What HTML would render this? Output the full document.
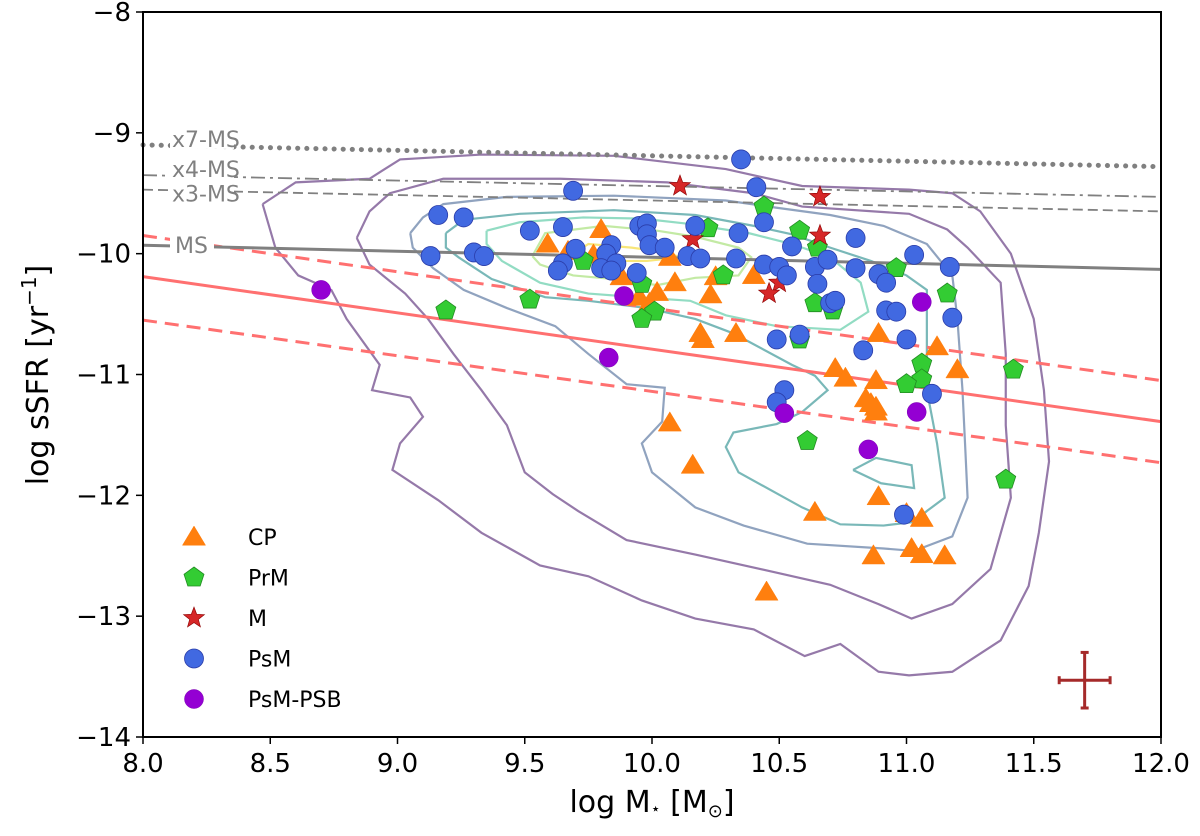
<!DOCTYPE html>
<html><head><meta charset="utf-8"><style>
body{margin:0;background:#fff}
svg{display:block;font-family:"DejaVu Sans","Liberation Sans",sans-serif}
</style></head><body>
<svg id="chart" width="1200" height="836" viewBox="0 0 1200 836">
<g id="contours"></g>
<g id="lines"></g>
<g id="points"></g>
<g id="axes"></g>
<g id="legend"></g>
</svg>
<script>
const xTicks=[8.0,8.5,9.0,9.5,10.0,10.5,11.0,11.5,12.0];
const xTickLabels=["8.0","8.5","9.0","9.5","10.0","10.5","11.0","11.5","12.0"];
const yTicks=[-8,-9,-10,-11,-12,-13,-14];
const yTickLabels=["\u22128","\u22129","\u221210","\u221211","\u221212","\u221213","\u221214"];

const psmPts=[[10.35,-9.22],[10.41,-9.45],[9.69,-9.48],[9.16,-9.68],[9.26,-9.70],[9.52,-9.81],[9.65,-9.78],[9.95,-9.77],[9.98,-9.75],[9.98,-9.84],[9.99,-9.93],[10.17,-9.77],[10.34,-9.83],[9.13,-10.02],[9.30,-9.99],[9.34,-10.02],[9.65,-10.08],[9.63,-10.14],[9.70,-9.96],[9.84,-9.93],[9.82,-10.00],[9.80,-10.12],[9.86,-10.08],[9.84,-10.14],[9.94,-10.16],[10.05,-9.95],[10.14,-10.02],[10.19,-10.04],[10.33,-10.04],[10.44,-9.74],[10.44,-10.09],[10.50,-10.11],[10.53,-10.18],[10.55,-9.94],[10.64,-10.11],[10.69,-10.05],[10.65,-10.25],[10.70,-10.41],[10.72,-10.39],[10.80,-9.87],[10.80,-10.12],[10.89,-10.17],[10.92,-10.24],[11.03,-10.01],[11.17,-10.11],[10.92,-10.47],[10.96,-10.48],[11.18,-10.53],[10.49,-10.71],[10.58,-10.67],[10.83,-10.80],[11.00,-10.71],[10.52,-11.13],[10.49,-11.23],[11.10,-11.16],[10.99,-12.16]];
const psbPts=[[8.70,-10.30],[9.89,-10.35],[9.83,-10.86],[11.06,-10.40],[10.52,-11.32],[11.04,-11.31],[10.85,-11.62]];
const mPts=[[10.11,-9.44],[10.16,-9.88],[10.66,-9.53],[10.66,-9.85],[10.50,-10.24],[10.46,-10.33]];
const prmPts=[[9.19,-10.47],[9.52,-10.38],[9.73,-10.06],[9.96,-10.25],[10.01,-10.48],[9.96,-10.54],[10.22,-9.79],[10.28,-10.18],[10.44,-9.61],[10.58,-9.81],[10.65,-9.95],[10.64,-10.41],[10.71,-10.47],[10.58,-10.71],[10.96,-10.12],[11.16,-10.33],[11.06,-10.91],[11.06,-11.04],[11.00,-11.08],[11.42,-10.96],[10.61,-11.55],[11.39,-11.87]];
const cpPts=[[9.80,-9.80],[9.59,-9.92],[9.67,-9.98],[9.77,-10.01],[9.88,-10.19],[9.95,-10.36],[9.99,-10.41],[10.02,-10.32],[10.09,-10.24],[10.07,-10.03],[10.23,-10.34],[10.25,-10.19],[10.19,-10.66],[10.20,-10.71],[10.33,-10.66],[10.07,-11.40],[10.40,-10.18],[10.72,-10.95],[10.76,-11.03],[10.88,-11.05],[10.89,-10.66],[11.12,-10.77],[11.20,-10.96],[10.84,-11.20],[10.86,-11.24],[10.88,-11.27],[10.88,-11.31],[10.16,-11.75],[10.64,-12.14],[10.89,-12.01],[11.00,-12.15],[11.06,-12.19],[10.87,-12.50],[11.02,-12.44],[11.06,-12.49],[11.15,-12.50],[10.45,-12.80]];

const contour1=[[8.47,-9.59],[8.60,-9.41],[8.89,-9.38],[9.01,-9.22],[9.33,-9.18],[9.85,-9.19],[10.29,-9.30],[10.59,-9.44],[11.01,-9.47],[11.18,-9.50],[11.29,-9.65],[11.41,-10.00],[11.50,-10.54],[11.54,-11.13],[11.56,-11.72],[11.52,-12.31],[11.48,-12.75],[11.37,-13.20],[11.18,-13.46],[11.01,-13.49],[10.89,-13.46],[10.74,-13.23],[10.60,-13.33],[10.40,-13.11],[10.17,-13.02],[9.96,-12.87],[9.75,-12.67],[9.56,-12.58],[9.33,-12.31],[9.16,-12.04],[8.98,-11.79],[9.01,-11.57],[9.10,-11.35],[9.05,-11.19],[8.90,-11.13],[8.93,-10.92],[8.80,-10.54],[8.74,-10.30],[8.61,-10.18],[8.52,-9.95],[8.47,-9.59]];
const contour2=[[8.84,-9.87],[8.89,-9.65],[8.97,-9.50],[9.18,-9.38],[9.64,-9.38],[10.06,-9.41],[10.40,-9.50],[10.59,-9.61],[11.01,-9.67],[11.16,-9.80],[11.24,-9.95],[11.37,-10.24],[11.39,-10.83],[11.39,-11.42],[11.41,-12.02],[11.33,-12.61],[11.18,-12.90],[11.02,-13.02],[10.89,-12.90],[10.70,-12.74],[10.49,-12.64],[10.17,-12.49],[9.90,-12.37],[9.71,-12.13],[9.61,-11.99],[9.50,-11.81],[9.43,-11.42],[9.33,-11.13],[9.22,-10.83],[9.12,-10.54],[9.03,-10.33],[8.89,-10.09],[8.84,-9.87]];
const contour3=[[9.05,-9.83],[9.10,-9.70],[9.18,-9.59],[9.43,-9.53],[9.85,-9.52],[10.29,-9.56],[10.49,-9.62],[10.70,-9.68],[10.91,-9.77],[11.08,-9.92],[11.18,-10.18],[11.20,-10.54],[11.22,-11.13],[11.23,-11.57],[11.24,-12.02],[11.18,-12.34],[11.03,-12.46],[10.91,-12.44],[10.61,-12.40],[10.36,-12.25],[10.17,-12.10],[10.00,-11.81],[9.96,-11.57],[10.04,-11.39],[10.05,-11.11],[9.90,-11.08],[9.75,-10.83],[9.62,-10.60],[9.43,-10.45],[9.26,-10.30],[9.14,-10.12],[9.06,-9.95],[9.05,-9.83]];
const contour4=[[9.19,-9.83],[9.26,-9.72],[9.48,-9.67],[9.85,-9.64],[10.17,-9.68],[10.40,-9.77],[10.55,-9.84],[10.70,-9.95],[10.86,-10.06],[11.00,-10.18],[11.08,-10.30],[11.08,-11.13],[11.12,-11.57],[11.15,-12.02],[11.08,-12.13],[11.03,-12.22],[10.91,-12.25],[10.74,-12.24],[10.59,-12.10],[10.34,-11.81],[10.29,-11.60],[10.32,-11.48],[10.49,-11.41],[10.59,-11.31],[10.69,-11.13],[10.64,-11.01],[10.55,-10.92],[10.32,-10.66],[10.17,-10.54],[9.98,-10.45],[9.75,-10.39],[9.58,-10.36],[9.37,-10.21],[9.24,-10.03],[9.19,-9.95],[9.19,-9.83]];
const contour4b=[[10.79,-11.79],[10.88,-11.69],[11.02,-11.75],[11.03,-11.94],[10.90,-11.90],[10.79,-11.79]];
const contour5=[[9.35,-9.81],[9.48,-9.74],[9.73,-9.70],[9.96,-9.71],[10.13,-9.75],[10.38,-9.83],[10.55,-9.92],[10.70,-10.03],[10.82,-10.24],[10.85,-10.48],[10.74,-10.63],[10.49,-10.60],[10.29,-10.51],[10.15,-10.39],[9.94,-10.36],[9.75,-10.33],[9.56,-10.24],[9.41,-10.06],[9.35,-9.92],[9.35,-9.81]];
const contour6=[[9.53,-10.02],[9.58,-9.83],[9.81,-9.77],[10.02,-9.81],[10.17,-9.86],[10.34,-9.95],[10.39,-10.03],[10.34,-10.18],[10.17,-10.20],[10.02,-10.26],[9.85,-10.21],[9.69,-10.18],[9.56,-10.09],[9.53,-10.02]];
const contour7=[[9.69,-10.00],[9.75,-9.92],[9.92,-9.95],[10.06,-9.99],[10.11,-10.03],[9.98,-10.06],[9.75,-10.06],[9.69,-10.00]];

const msLine=[-9.93,-10.13];
const ms3Line=[-9.47,-9.65];
const ms4Line=[-9.35,-9.53];
const ms7Line=[-9.10,-9.28];
const redMid=[-10.19,-11.39];
const redUp=[-9.85,-11.05];
const redLow=[-10.55,-11.73];
const errCenter=[11.7,-13.53];
const errSize=[0.1,0.23];

const X0=143,X1=1161,Y0=12,Y1=737;
function sx(v){return X0+(v-8)/4*(X1-X0);}
function sy(v){return Y0+(-8-v)/6*(Y1-Y0);}
const NS="http://www.w3.org/2000/svg";
function mk(tag,attrs,parent){const e=document.createElementNS(NS,tag);for(const k in attrs)e.setAttribute(k,attrs[k]);parent.appendChild(e);return e;}

const gC=document.getElementById('contours');
const cdefs=[[contour1,'#8a6aa0'],[contour2,'#8a6aa0'],[contour3,'#8499b8'],[contour4,'#6ab0b0'],[contour4b,'#6ab0b0'],[contour5,'#86d8bc'],[contour6,'#bce89a'],[contour7,'#f7e36a']];
cdefs.forEach((c,i)=>{
 const p=mk('polyline',{points:c[0].map(d=>sx(d[0])+','+sy(d[1])).join(' '),fill:'none',stroke:c[1],'stroke-width':2.2,'stroke-opacity':0.9},gC);
 
 
});

const gL=document.getElementById('lines');
function refLine(arr,color,w,dash,name,cap){
 const l=mk('line',{x1:X0,y1:sy(arr[0]),x2:X1,y2:sy(arr[1]),stroke:color,'stroke-width':w,'stroke-dasharray':dash,'stroke-linecap':cap||'butt'},gL);
 
 
}
refLine(redMid,'#ff7070',3,'none','quenching-line');
refLine(redUp,'#ff7070',3,'14 8','quenching-upper');
refLine(redLow,'#ff7070',3,'14 8','quenching-lower');
refLine(ms7Line,'#808080',5,'0.1 9','x7-ms-line','round');
refLine(ms4Line,'#808080',1.8,'14 5 3 5','x4-ms-line');
refLine(ms3Line,'#808080',1.8,'10 5','x3-ms-line');
refLine(msLine,'#808080',3,'none','ms-line');
[['x7-MS',ms7Line,-6],['x4-MS',ms4Line,-6],['x3-MS',ms3Line,4],['MS',msLine,0]].forEach(t=>{
 const yy=sy(t[1][0])+t[2];
 const bgW=t[0]==='MS'?44:64;
 const r=mk('rect',{x:170,y:yy-12,width:bgW,height:22,fill:'#fff'},gL);
 
 
 const tx=mk('text',{x:t[0]==='MS'?175:172,y:yy+8,'font-size':22,fill:'#808080'},gL);
 tx.textContent=t[0];
 
 
});
const ecx=sx(errCenter[0]),ecy=sy(errCenter[1]);
const ex1=sx(errCenter[0]-errSize[0]),ex2=sx(errCenter[0]+errSize[0]),ey1=sy(errCenter[1]+errSize[1]),ey2=sy(errCenter[1]-errSize[1]);
[[ex1,ecy,ex2,ecy],[ecx,ey1,ecx,ey2],[ex1,ecy-4,ex1,ecy+4],[ex2,ecy-4,ex2,ecy+4],[ecx-4,ey1,ecx+4,ey1],[ecx-4,ey2,ecx+4,ey2]].forEach(s=>{
 const l=mk('line',{x1:s[0],y1:s[1],x2:s[2],y2:s[3],stroke:'#a52a2a','stroke-width':3},gL);
 
 
});

function tri(x,y,s){return `${x},${y-s} ${x-s*1.05},${y+s*0.75} ${x+s*1.05},${y+s*0.75}`;}
function pent(x,y,r){let p=[];for(let i=0;i<5;i++){const a=-Math.PI/2+i*2*Math.PI/5;p.push((x+r*Math.cos(a))+','+(y+r*Math.sin(a)));}return p.join(' ');}
function star(x,y,R,r){let p=[];for(let i=0;i<10;i++){const a=-Math.PI/2+i*Math.PI/5;const rr=i%2?r:R;p.push((x+rr*Math.cos(a))+','+(y+rr*Math.sin(a)));}return p.join(' ');}
function drawMarker(kind,x,y,parent){
 let e;
 if(kind==='cp')e=mk('polygon',{points:tri(x,y,11),fill:'#ff7f0e',stroke:'#ff7f0e','stroke-width':0.5},parent);
 else if(kind==='prm')e=mk('polygon',{points:pent(x,y,10.5),fill:'#33cc33','stroke':'#228b22','stroke-width':0.8},parent);
 else if(kind==='m')e=mk('polygon',{points:star(x,y,11,4.6),fill:'#d62728',stroke:'#8b0000','stroke-width':0.6},parent);
 else if(kind==='psm')e=mk('circle',{cx:x,cy:y,r:9.5,fill:'#4169e1',stroke:'#2a3ca8','stroke-width':0.8},parent);
 else e=mk('circle',{cx:x,cy:y,r:9.5,fill:'#9400d3',stroke:'#7a00b0','stroke-width':0.5},parent);
 return e;
}
const gP=document.getElementById('points');
[['cp',cpPts],['prm',prmPts],['m',mPts],['psm',psmPts],['psb',psbPts]].forEach(s=>{
 s[1].forEach(d=>{
  const e=drawMarker(s[0],sx(d[0]),sy(d[1]),gP);
  
  
 });
});

const gA=document.getElementById('axes');
const fr=mk('rect',{x:X0,y:Y0,width:X1-X0,height:Y1-Y0,fill:'none',stroke:'#000','stroke-width':2},gA);


xTicks.forEach((v,i)=>{
 const t=mk('line',{x1:sx(v),y1:Y1,x2:sx(v),y2:Y1+7,stroke:'#000','stroke-width':1.5},gA);
 
 
 const tx=mk('text',{x:sx(v),y:Y1+35,'font-size':26,'text-anchor':'middle'},gA);
 tx.textContent=xTickLabels[i];
 
 
});
yTicks.forEach((v,i)=>{
 const t=mk('line',{x1:X0-7,y1:sy(v),x2:X0,y2:sy(v),stroke:'#000','stroke-width':1.5},gA);
 
 
 const tx=mk('text',{x:X0-12,y:sy(v)+9,'font-size':26,'text-anchor':'end'},gA);
 tx.textContent=yTickLabels[i];
 
 
});
const xt=mk('text',{x:652,y:812,'font-size':30,'text-anchor':'middle'},gA);
xt.innerHTML='log M<tspan font-size="16" dy="2">\u22c6</tspan><tspan dy="-2">  [M</tspan><tspan font-size="18" dy="5">\u2299</tspan><tspan dy="-5">]</tspan>';


const yt=mk('text',{x:0,y:0,'font-size':30,'text-anchor':'middle',transform:'translate(48,375) rotate(-90)'},gA);
yt.innerHTML='log sSFR  [yr<tspan font-size="20" dy="-12">\u22121</tspan><tspan dy="12">]</tspan>';



const gLg=document.getElementById('legend');
const legItems=[['cp','CP'],['prm','PrM'],['m','M'],['psm','PsM'],['psb','PsM-PSB']];
legItems.forEach((it,i)=>{
 const y=537+i*40.5;
 const m=drawMarker(it[0],194,y,gLg);
 
 
 const tx=mk('text',{x:248,y:y+8,'font-size':22},gLg);
 tx.textContent=it[1];
 
 
});
</script>
</body></html>
